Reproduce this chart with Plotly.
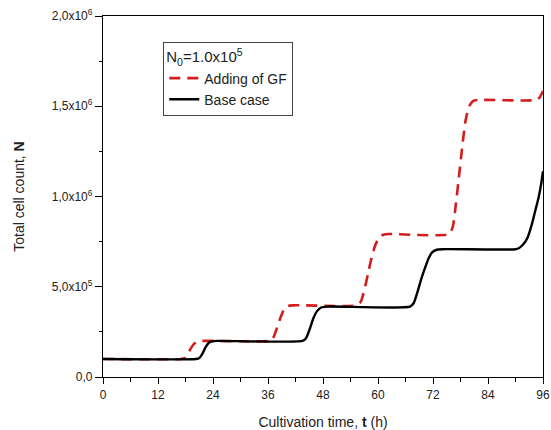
import plotly.graph_objects as go

# Adding of GF (red dashed)
t_gf = [0, 17.0, 17.8, 18.5, 19.2, 19.9, 20.7, 21.5, 36.3, 37.0, 37.8, 38.6, 39.4, 40.3, 41.3,
        55.3, 56.2, 57.0, 57.8, 58.6, 59.4, 60.3, 61.3, 62.5, 75.5, 76.3, 77.0, 77.7, 78.4,
        79.1, 79.9, 80.8, 82.0, 94.5, 95.3, 96.0]
n_gf = [1.0e5, 1.0e5, 1.05e5, 1.3e5, 1.6e5, 1.85e5, 1.97e5, 2.0e5, 2.0e5, 2.1e5, 2.6e5, 3.2e5,
        3.7e5, 3.92e5, 3.97e5, 3.97e5, 4.15e5, 4.8e5, 5.7e5, 6.6e5, 7.3e5, 7.75e5, 7.9e5, 7.92e5,
        7.92e5, 8.3e5, 9.6e5, 1.12e6, 1.28e6, 1.42e6, 1.5e6, 1.53e6, 1.535e6, 1.535e6, 1.55e6,
        1.585e6]

# Base case (black solid)
t_base = [0, 20.3, 21.0, 21.7, 22.4, 23.1, 23.9, 25.0, 43.5, 44.3, 45.1, 45.9, 46.7, 47.6, 49.0,
          67.0, 67.8, 68.6, 69.4, 70.2, 71.0, 71.8, 72.8, 74.0, 90.0, 90.8, 91.7, 92.6, 93.5,
          94.3, 95.0, 95.6, 96.0]
n_base = [1.0e5, 1.0e5, 1.05e5, 1.3e5, 1.65e5, 1.9e5, 1.98e5, 2.0e5, 2.0e5, 2.15e5, 2.65e5,
          3.25e5, 3.65e5, 3.85e5, 3.9e5, 3.9e5, 4.1e5, 4.7e5, 5.4e5, 6.0e5, 6.55e5, 6.9e5,
          7.05e5, 7.08e5, 7.08e5, 7.15e5, 7.35e5, 7.7e5, 8.4e5, 9.2e5, 9.9e5, 1.07e6, 1.14e6]

x_ticks = [0, 12, 24, 36, 48, 60, 72, 84, 96]
y_ticks = [0, 5e5, 1e6, 1.5e6, 2e6]
y_labels = ["0,0", "5,0x10<sup>5</sup>", "1,0x10<sup>6</sup>", "1,5x10<sup>6</sup>", "2,0x10<sup>6</sup>"]

FONT = "Arial, Liberation Sans, sans-serif"

fig = go.Figure()
fig.add_trace(go.Scatter(x=t_gf, y=n_gf, mode="lines", name="Adding of GF",
                         line=dict(color="rgb(212,28,28)", width=2.6, dash="11px,7px",
                                   shape="spline", smoothing=0.6)))
fig.add_trace(go.Scatter(x=t_base, y=n_base, mode="lines", name="Base case",
                         line=dict(color="black", width=2.4, shape="spline", smoothing=0.6)))

fig.update_layout(
    width=551, height=430,
    margin=dict(l=103, r=8, t=16, b=53, autoexpand=False),
    paper_bgcolor="white", plot_bgcolor="white",
    font=dict(family=FONT, size=12, color="#222"),
    showlegend=True,
    legend=dict(
        title=dict(text="N<sub>0</sub>=1.0x10<sup>5</sup>", font=dict(size=15, family=FONT)),
        x=0.137, y=0.928, xanchor="left", yanchor="top",
        bgcolor="white", bordercolor="#444", borderwidth=1,
        font=dict(size=14, family=FONT), tracegroupgap=0, itemwidth=30,
    ),
)
fig.update_xaxes(
    range=[0, 96], tickvals=x_ticks, ticktext=[str(v) for v in x_ticks],
    showline=True, linecolor="black", linewidth=1.3, mirror=True,
    ticks="outside", ticklen=6, tickwidth=1.2, tickcolor="black",
    minor=dict(ticks="outside", ticklen=4, tickwidth=1.2, tickcolor="black", dtick=6, showgrid=False),
    showgrid=False, zeroline=False, automargin=False, ticklabeloverflow="allow",
    title=dict(text="Cultivation time, <b>t</b> (h)", font=dict(size=14, family=FONT), standoff=16),
    tickfont=dict(size=12, family=FONT),
)
fig.update_yaxes(
    range=[0, 2e6], tickvals=y_ticks, ticktext=y_labels,
    showline=True, linecolor="black", linewidth=1.3, mirror=True,
    ticks="outside", ticklen=7, tickwidth=1.2, tickcolor="black",
    minor=dict(ticks="outside", ticklen=3, tickwidth=1.2, tickcolor="black",
               tickvals=[2.5e5, 7.5e5, 1.25e6, 1.75e6], showgrid=False),
    showgrid=False, zeroline=False, automargin=False, ticklabeloverflow="allow",
    title=dict(text="Total cell count, <b>N</b>", font=dict(size=14, family=FONT), standoff=23),
    tickfont=dict(size=12, family=FONT),
)

fig.write_html("out.html", config={"displayModeBar": False},
               post_script="document.body.style.margin='0';")
